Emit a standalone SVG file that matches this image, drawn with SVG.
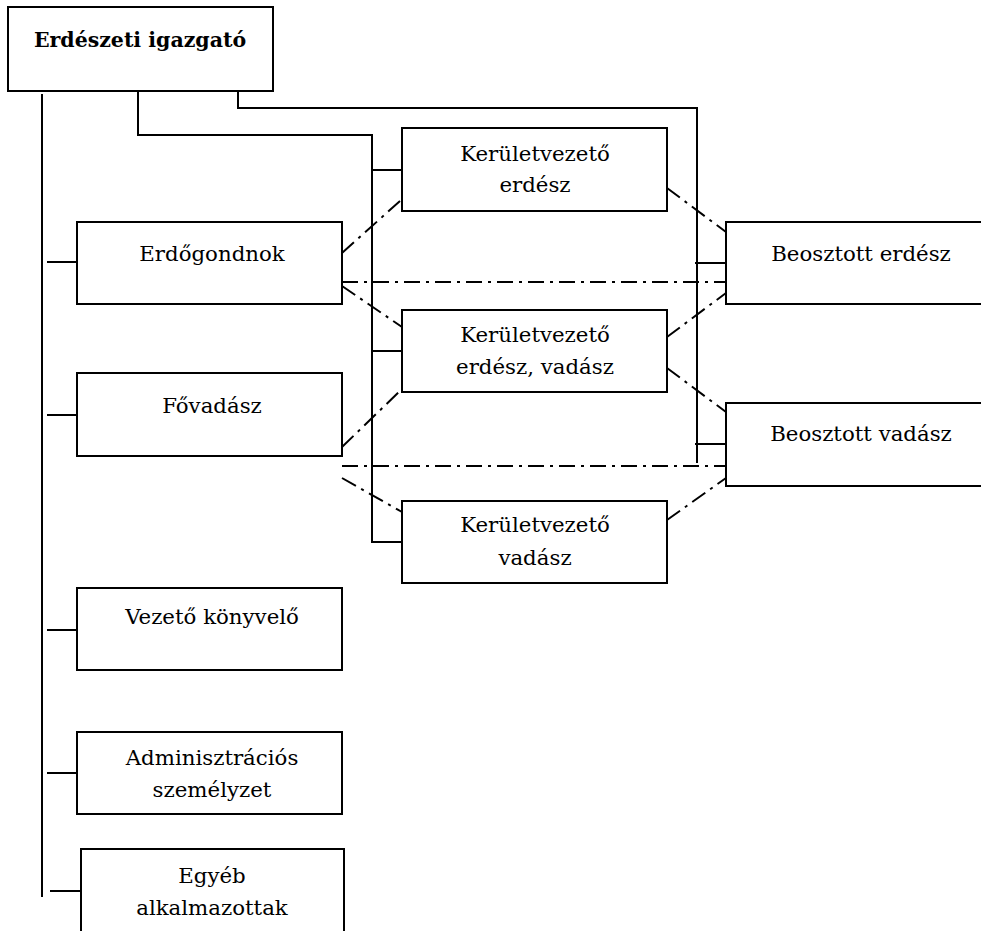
<svg xmlns="http://www.w3.org/2000/svg" width="981" height="931" viewBox="0 0 981 931">
<style>
.box{fill:#fff;stroke:#000;stroke-width:2}
.ln{fill:none;stroke:#000;stroke-width:2}
.dd{fill:none;stroke:#000;stroke-width:2;stroke-dasharray:16 6 3 6}
.t{font-family:'DejaVu Serif',serif;font-size:21.3px;fill:#000;text-anchor:middle}
.b{font-weight:bold;font-size:20.5px}
</style>
<rect width="981" height="931" fill="#fff"/>
<g id="connectors">
<path class="ln" d="M42 94V897"/>
<path class="ln" d="M138 91V135H372V543"/>
<path class="ln" d="M238 91V108H697V463"/>
<path class="ln" d="M372 170H402M372 351H402M372 542H402"/>
<path class="ln" d="M695 263H726M695 444H726"/>
<path class="ln" d="M47 262H77M47 415H77M47 630H77M47 773H77M50 891H81"/>
<path class="dd" d="M342 253L400 201"/>
<path class="dd" d="M342 282H726"/>
<path class="dd" d="M342 286L402 327"/>
<path class="dd" d="M667 188L726 232"/>
<path class="dd" d="M667 337L726 293"/>
<path class="dd" d="M667 368L726 412"/>
<path class="dd" d="M342 447L402 389"/>
<path class="dd" d="M342 466H726"/>
<path class="dd" d="M342 478L402 512"/>
<path class="dd" d="M667 520L726 478"/>
</g>
<g id="igazgato"><rect class="box" x="8" y="7" width="265" height="84"/><text class="t b" x="140" y="47">Erdészeti igazgató</text></g>
<g id="erdogondnok"><rect class="box" x="77" y="222" width="265" height="82"/><text class="t" x="212" y="261">Erdőgondnok</text></g>
<g id="fovadasz"><rect class="box" x="77" y="373" width="265" height="83"/><text class="t" x="212" y="413">Fővadász</text></g>
<g id="konyvelo"><rect class="box" x="77" y="588" width="265" height="82"/><text class="t" x="212" y="624">Vezető könyvelő</text></g>
<g id="admin"><rect class="box" x="77" y="732" width="265" height="82"/><text class="t" x="212" y="765">Adminisztrációs</text><text class="t" x="212" y="797">személyzet</text></g>
<g id="egyeb"><rect class="box" x="81" y="849" width="263" height="100"/><text class="t" x="212" y="883">Egyéb</text><text class="t" x="212" y="915">alkalmazottak</text></g>
<g id="ker-erdesz"><rect class="box" x="402" y="128" width="265" height="83"/><text class="t" x="535" y="161">Kerületvezető</text><text class="t" x="535" y="192">erdész</text></g>
<g id="ker-erdesz-vadasz"><rect class="box" x="402" y="310" width="265" height="82"/><text class="t" x="535" y="342">Kerületvezető</text><text class="t" x="535" y="374">erdész, vadász</text></g>
<g id="ker-vadasz"><rect class="box" x="402" y="501" width="265" height="82"/><text class="t" x="535" y="532">Kerületvezető</text><text class="t" x="535" y="565">vadász</text></g>
<g id="beo-erdesz"><rect class="box" x="726" y="222" width="270" height="82"/><text class="t" x="861" y="261">Beosztott erdész</text></g>
<g id="beo-vadasz"><rect class="box" x="726" y="403" width="270" height="83"/><text class="t" x="861" y="441">Beosztott vadász</text></g>
</svg>
